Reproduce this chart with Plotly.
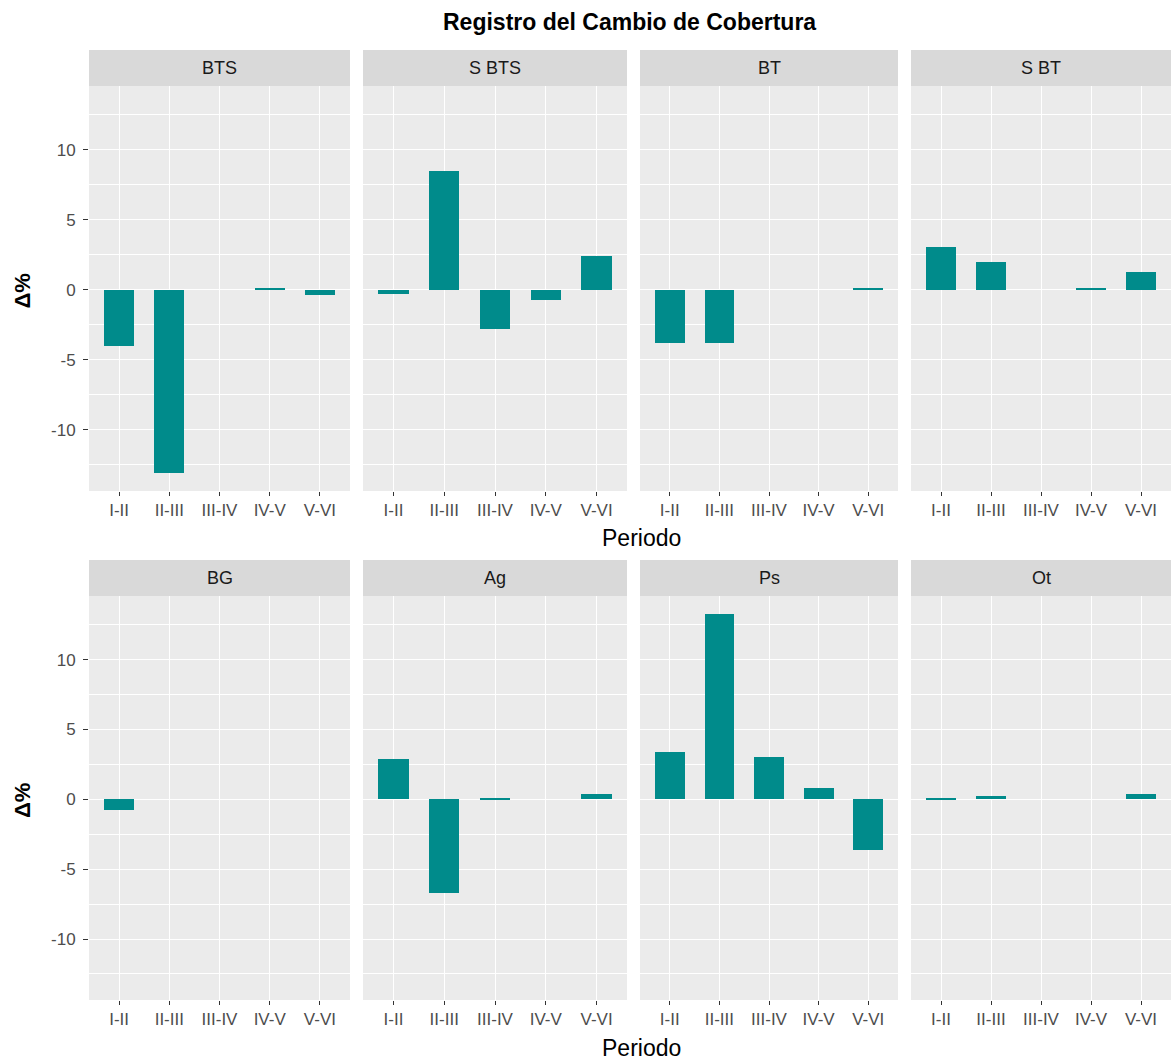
import plotly.graph_objects as go

# Periods (x categories) and land-cover classes (facets)
periods = ["I-II", "II-III", "III-IV", "IV-V", "V-VI"]
classes = ["BTS", "S BTS", "BT", "S BT", "BG", "Ag", "Ps", "Ot"]

# Change in coverage (%) per class and period
bts = [-4.0, -13.05, 0.0, 0.08, -0.4]
s_bts = [-0.3, 8.52, -2.83, -0.74, 2.43]
bt = [-3.81, -3.81, 0.0, 0.0, 0.06]
s_bt = [3.07, 2.0, 0.0, 0.06, 1.26]
bg = [-0.79, 0.0, 0.0, 0.0, 0.0]
ag = [2.9, -6.69, 0.08, 0.0, 0.36]
ps = [3.4, 13.24, 3.0, 0.79, -3.64]
ot = [0.07, 0.26, 0.0, 0.0, 0.36]

series = [bts, s_bts, bt, s_bt, bg, ag, ps, ot]

y_ticks = [-10, -5, 0, 5, 10]
y_ticktext = ["-10", "-5", "0", "5", "10"]

title_text = "Registro del Cambio de Cobertura"
x_title = "Periodo"
y_title = "Δ%"

W, H = 1171, 1061
FONT = "Liberation Sans, Arial, sans-serif"
BAR = "#008B8B"


def px_x(v):
    return v / W


def px_y(v):
    return 1 - v / H


# panel geometry (pixels)
col_edges = [(89, 350), (363, 627), (640, 898), (911, 1171)]
row_edges = [(86, 491), (596, 1000)]
strip_edges = [(50, 86), (560, 596)]
xtitle_y = [538, 1048]

# shared y range with ggplot-like 5% expansion
all_vals = [v for s in series for v in s] + [0]
lo, hi = min(all_vals), max(all_vals)
pad = 0.05 * (hi - lo)
y_range = [lo - pad, hi + pad]

fig = go.Figure()
annotations = []
shapes = []

for i, (name, vals) in enumerate(zip(classes, series)):
    r, c = divmod(i, 4)
    k = "" if i == 0 else str(i + 1)
    xa, ya = "x" + k, "y" + k
    fig.add_trace(go.Bar(
        x=periods, y=vals, width=0.6,
        marker=dict(color=BAR, line=dict(width=0)),
        xaxis=xa, yaxis=ya, showlegend=False,
        hoverinfo="x+y",
    ))
    x0, x1 = col_edges[c]
    y0, y1 = row_edges[r]
    fig.layout["xaxis" + k] = dict(
        domain=[px_x(x0), px_x(x1)], anchor=ya,
        type="category", categoryorder="array", categoryarray=periods,
        range=[-0.6, 4.6], showgrid=True, gridcolor="white", gridwidth=1.1,
        ticks="outside", ticklen=4, tickwidth=1.1, tickcolor="#333333",
        tickfont=dict(family=FONT, size=17, color="#4D4D4D"),
        zeroline=False, showline=False, fixedrange=True,
    )
    fig.layout["yaxis" + k] = dict(
        domain=[px_y(y1), px_y(y0)], anchor=xa,
        range=y_range, tickmode="array", tickvals=y_ticks, ticktext=y_ticktext,
        showgrid=True, gridcolor="white", gridwidth=1.1,
        minor=dict(showgrid=True, gridcolor="white", gridwidth=0.55,
                   tickmode="linear", tick0=2.5, dtick=5, ticks=""),
        ticks="outside" if c == 0 else "", ticklen=5, tickwidth=1.1,
        tickcolor="#333333", showticklabels=(c == 0), ticklabelstandoff=4,
        tickfont=dict(family=FONT, size=17, color="#4D4D4D"),
        zeroline=False, showline=False, fixedrange=True,
    )
    # facet strip
    s0, s1 = strip_edges[r]
    shapes.append(dict(type="rect", xref="paper", yref="paper",
                       x0=px_x(x0), x1=px_x(x1), y0=px_y(s1), y1=px_y(s0),
                       fillcolor="#D9D9D9", line=dict(width=0), layer="below"))
    annotations.append(dict(text=name, xref="paper", yref="paper",
                            x=px_x((x0 + x1) / 2), y=px_y((s0 + s1) / 2),
                            xanchor="center", yanchor="middle", showarrow=False,
                            font=dict(family=FONT, size=18, color="#1A1A1A")))

for r in range(2):
    y0, y1 = row_edges[r]
    annotations.append(dict(text=y_title, xref="paper", yref="paper",
                            x=px_x(22), y=px_y((y0 + y1) / 2 + 2), textangle=-90,
                            xanchor="center", yanchor="middle", showarrow=False,
                            font=dict(family=FONT, size=22, color="black",
                                      weight="bold")))
    annotations.append(dict(text=x_title, xref="paper", yref="paper",
                            x=px_x(641), y=px_y(xtitle_y[r]),
                            xanchor="center", yanchor="middle", showarrow=False,
                            font=dict(family=FONT, size=23, color="black")))

annotations.append(dict(text="<b>" + title_text + "</b>", xref="paper", yref="paper",
                        x=px_x(629), y=px_y(22), xanchor="center", yanchor="middle",
                        showarrow=False,
                        font=dict(family=FONT, size=23, color="black")))

fig.update_layout(
    width=W, height=H, margin=dict(l=0, r=0, t=0, b=0),
    paper_bgcolor="white", plot_bgcolor="#EBEBEB",
    showlegend=False, bargap=0,
    annotations=annotations, shapes=shapes,
)

fig.write_html("out.html")
